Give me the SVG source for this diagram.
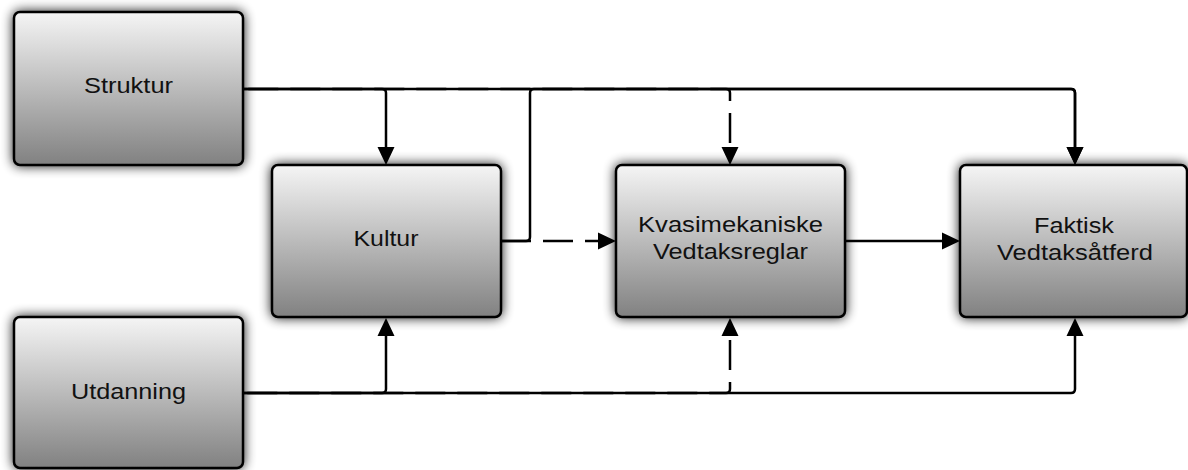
<svg xmlns="http://www.w3.org/2000/svg" width="1188" height="470" viewBox="0 0 1188 470">
<defs>
<linearGradient id="g" x1="0" y1="0" x2="0" y2="1">
<stop offset="0" stop-color="#f5f5f5"/>
<stop offset="1" stop-color="#818181"/>
</linearGradient>
<filter id="sh" x="-20%" y="-25%" width="140%" height="150%">
<feGaussianBlur in="SourceAlpha" stdDeviation="6"/>
<feComponentTransfer><feFuncA type="linear" slope="0.9"/></feComponentTransfer>
<feMerge><feMergeNode/><feMergeNode in="SourceGraphic"/></feMerge>
</filter>
<marker id="ah" markerUnits="userSpaceOnUse" markerWidth="20" markerHeight="18" refX="0" refY="8.5" orient="auto" overflow="visible">
<path d="M0,0 L18,8.5 L0,17 Z" fill="#000"/>
</marker>
</defs>
<style>
.box{fill:url(#g);stroke:#000;stroke-width:2.5;filter:url(#sh)}
.t{font-family:"Liberation Sans",Arial,sans-serif;font-size:22px;fill:#111;text-anchor:middle}
.c{fill:none;stroke:#000;stroke-width:2.5;marker-end:url(#ah)}
.d{stroke-dasharray:30 12}
</style>
<g id="connectors">
<path class="c" d="M243,89 H382 Q386,89 386,93 V147"/>
<path class="c" d="M243,89 H1071 Q1075,89 1075,93 V147"/>
<path class="c d" style="stroke-dashoffset:36.7" d="M243,89 H726 Q730,89 730,93 V147"/>
<path class="c" d="M501,241 H526 Q530,241 530,237 V93 Q530,89 534,89 H1071 Q1075,89 1075,93 V147"/>
<path class="c d" d="M501,241 H598"/>
<path class="c" d="M845,241 H942"/>
<path class="c" d="M243,393 H382 Q386,393 386,389 V336"/>
<path class="c" d="M243,393 H1071 Q1075,393 1075,389 V336"/>
<path class="c d" style="stroke-dashoffset:37.7" d="M243,393 H726 Q730,393 730,389 V336"/>
</g>
<g id="struktur">
<rect class="box" x="14" y="12" width="229" height="153" rx="6"/>
<text class="t" x="128.5" y="93" textLength="89" lengthAdjust="spacingAndGlyphs">Struktur</text>
</g>
<g id="utdanning">
<rect class="box" x="14" y="317" width="229" height="151" rx="6"/>
<text class="t" x="128.5" y="399" textLength="115" lengthAdjust="spacingAndGlyphs">Utdanning</text>
</g>
<g id="kultur">
<rect class="box" x="272" y="165" width="229" height="152" rx="6"/>
<text class="t" x="386" y="246" textLength="65" lengthAdjust="spacingAndGlyphs">Kultur</text>
</g>
<g id="kvasi">
<rect class="box" x="616" y="165" width="229" height="152" rx="6"/>
<text class="t" x="730.5" y="232" textLength="185" lengthAdjust="spacingAndGlyphs">Kvasimekaniske</text>
<text class="t" x="730.5" y="259" textLength="155" lengthAdjust="spacingAndGlyphs">Vedtaksreglar</text>
</g>
<g id="faktisk">
<rect class="box" x="960" y="165" width="227" height="152" rx="6"/>
<text class="t" x="1074" y="233" textLength="80" lengthAdjust="spacingAndGlyphs">Faktisk</text>
<text class="t" x="1075" y="260" textLength="156" lengthAdjust="spacingAndGlyphs">Vedtaksåtferd</text>
</g>
</svg>
